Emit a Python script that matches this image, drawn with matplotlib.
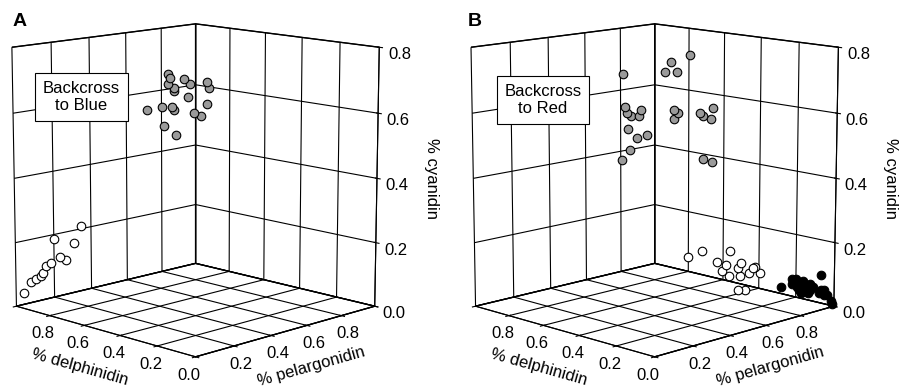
import matplotlib.pyplot as plt
import numpy as np

plt.rcParams['font.family'] = ['Liberation Sans', 'DejaVu Sans']
plt.rcParams['font.size'] = 12
plt.rcParams['grid.color'] = 'black'
plt.rcParams['grid.linewidth'] = 0.8
plt.rcParams['axes.linewidth'] = 0.8

# Panel A : backcross to blue  (pelargonidin, delphinidin, cyanidin)
a_grey_pel = [0.00, 0.00, 0.03, 0.10, 0.01, 0.03, 0.04, 0.07, 0.12, 0.08,
              0.03, 0.06, 0.07, 0.00, 0.13, 0.15, 0.14, 0.07, 0.12]
a_grey_del = [0.14, 0.13, 0.09, 0.04, 0.15, 0.14, 0.15, 0.10, 0.05, 0.12,
              0.20, 0.18, 0.18, 0.25, 0.14, 0.12, 0.08, 0.23, 0.22]
a_grey_cya = [0.79, 0.78, 0.78, 0.77, 0.76, 0.75, 0.74, 0.76, 0.75, 0.72,
              0.69, 0.69, 0.68, 0.68, 0.67, 0.66, 0.70, 0.63, 0.60]

a_white_pel = [0.00, 0.00, 0.01, 0.02, 0.02, 0.01, 0.02, 0.00, 0.04, 0.06, 0.05, 0.04]
a_white_del = [0.95, 0.91, 0.89, 0.87, 0.86, 0.83, 0.81, 0.77, 0.78, 0.77, 0.71, 0.66]
a_white_cya = [0.05, 0.09, 0.10, 0.11, 0.12, 0.15, 0.16, 0.24, 0.18, 0.17, 0.23, 0.29]

# Panel B : backcross to red
b_grey_pel = [0.00, 0.08, 0.08, 0.11, 0.18, 0.04, 0.06, 0.08, 0.10, 0.09, 0.09, 0.13,
              0.14, 0.13, 0.12, 0.17, 0.19, 0.19, 0.25, 0.26, 0.30, 0.29, 0.34, 0.37]
b_grey_del = [0.16, 0.03, 0.00, 0.00, 0.00, 0.19, 0.20, 0.20, 0.18, 0.16, 0.23, 0.22,
              0.18, 0.26, 0.29, 0.07, 0.07, 0.09, 0.02, 0.01, 0.00, 0.00, 0.09, 0.07]
b_grey_cya = [0.79, 0.80, 0.83, 0.80, 0.84, 0.69, 0.67, 0.66, 0.66, 0.68, 0.62, 0.59,
              0.60, 0.55, 0.52, 0.68, 0.67, 0.65, 0.67, 0.66, 0.68, 0.65, 0.52, 0.51]

b_white_pel = [0.50, 0.53, 0.61, 0.59, 0.62, 0.65, 0.62, 0.65, 0.66, 0.68, 0.70, 0.70,
               0.71, 0.73, 0.70, 0.72]
b_white_del = [0.32, 0.27, 0.20, 0.25, 0.23, 0.18, 0.25, 0.24, 0.20, 0.21, 0.18, 0.16,
               0.16, 0.15, 0.24, 0.22]
b_white_cya = [0.18, 0.20, 0.20, 0.16, 0.15, 0.16, 0.13, 0.11, 0.14, 0.11, 0.12, 0.14,
               0.14, 0.12, 0.06, 0.06]

b_black_pel = [0.82, 0.83, 0.84, 0.84, 0.84, 0.86, 0.87, 0.87, 0.88, 0.89, 0.90, 0.91,
               0.93, 0.92, 0.93, 0.94, 0.96, 0.98, 0.99, 0.88, 0.86, 0.90, 0.95]
b_black_del = [0.12, 0.07, 0.07, 0.06, 0.08, 0.06, 0.07, 0.05, 0.05, 0.03, 0.04, 0.03,
               0.02, 0.00, 0.01, 0.00, 0.00, 0.00, 0.00, 0.07, 0.07, 0.05, 0.01]
b_black_cya = [0.07, 0.10, 0.09, 0.10, 0.08, 0.08, 0.06, 0.09, 0.07, 0.08, 0.06, 0.07,
               0.05, 0.11, 0.06, 0.06, 0.04, 0.02, 0.01, 0.05, 0.07, 0.05, 0.04]

ticks_xy = [0.0, 0.2, 0.4, 0.6, 0.8, 1.0]
ticks_z = [0.0, 0.2, 0.4, 0.6, 0.8]


def style_axes(ax):
    ax.set_proj_type('persp', focal_length=1.0)
    ax.view_init(elev=11.5, azim=-135)
    ax.set_xlim(0, 1)
    ax.set_ylim(0, 1)
    ax.set_zlim(0, 0.8)
    ax.set_box_aspect((1, 1, 1.03), zoom=1.12)
    for axis in (ax.xaxis, ax.yaxis, ax.zaxis):
        axis.set_pane_color((1, 1, 1, 1))
        axis.pane.set_edgecolor('black')
        axis.line.set_color('black')
        axis._axinfo['grid'].update(color='black', linewidth=0.8)
    ax.set_xticks(ticks_xy)
    ax.set_xticklabels(['', '0.2', '0.4', '0.6', '0.8', ''])
    ax.set_yticks(ticks_xy)
    ax.set_yticklabels(['0.0', '0.2', '0.4', '0.6', '0.8', ''])
    ax.set_zticks(ticks_z)
    ax.set_zticklabels(['0.0', '0.2', '0.4', '0.6', '0.8'])
    ax.tick_params(axis='x', pad=-3)
    ax.tick_params(axis='y', pad=-3)
    ax.tick_params(axis='z', pad=0)
    ax.set_xlabel('% pelargonidin', labelpad=-4)
    ax.set_ylabel('% delphinidin', labelpad=-4)
    ax.zaxis.set_rotate_label(False)
    ax.set_zlabel('% cyanidin', rotation=-90, labelpad=1)
    ax.zaxis.set_ticks_position('lower')
    ax.zaxis.set_label_position('lower')


fig = plt.figure(figsize=(9.02, 3.89), dpi=100)

axA = fig.add_axes([-0.039, 0.028, 0.5, 1.0], projection='3d')
style_axes(axA)
axA.scatter(a_grey_pel, a_grey_del, a_grey_cya, s=38, c='#9a9a9a',
            edgecolors='black', linewidths=0.8, depthshade=False)
axA.scatter(a_white_pel, a_white_del, a_white_cya, s=38, c='white',
            edgecolors='black', linewidths=0.8, depthshade=False)

axB = fig.add_axes([0.47, 0.028, 0.5, 1.0], projection='3d')
style_axes(axB)
axB.scatter(b_grey_pel, b_grey_del, b_grey_cya, s=38, c='#9a9a9a',
            edgecolors='black', linewidths=0.8, depthshade=False)
axB.scatter(b_white_pel, b_white_del, b_white_cya, s=38, c='white',
            edgecolors='black', linewidths=0.8, depthshade=False)
axB.scatter(b_black_pel, b_black_del, b_black_cya, s=38, c='black',
            edgecolors='black', linewidths=0.8, depthshade=False)

# lettres des panneaux et encadrés
fig.text(13 / 902, 1 - 13 / 389, 'A', fontsize=14, fontweight='bold', va='top')
fig.text(468 / 902, 1 - 13 / 389, 'B', fontsize=14, fontweight='bold', va='top')
box = dict(boxstyle='square,pad=0.45', facecolor='white', edgecolor='black', linewidth=0.8)
fig.text(81.5 / 902, 1 - 97 / 389, 'Backcross\nto Blue', ha='center', va='center',
         multialignment='center', fontsize=12, bbox=box)
fig.text(543 / 902, 1 - 100 / 389, 'Backcross\nto Red', ha='center', va='center',
         multialignment='center', fontsize=12, bbox=box)

fig.savefig('out.png', dpi=100)
